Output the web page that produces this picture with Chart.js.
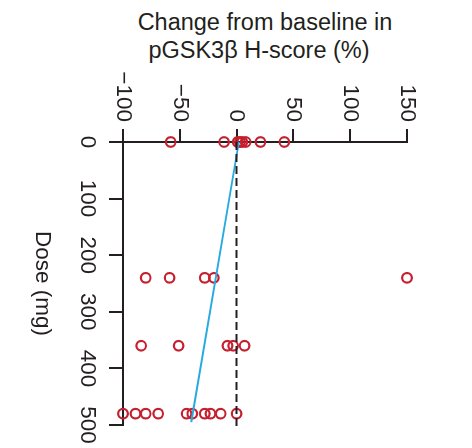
<!DOCTYPE html>
<html>
<head>
<meta charset="utf-8">
<script src="https://cdn.jsdelivr.net/npm/chart.js@4.4.0/dist/chart.umd.min.js"></script>
<style>
html, body { margin: 0; padding: 0; background: #fff; }
body { width: 472px; height: 448px; position: relative; overflow: hidden; font-family: "Liberation Sans", Arial, sans-serif; }
#title { position: absolute; left: 0; top: 9px; width: 530px; text-align: center; font-size: 23.5px; line-height: 27.6px; color: #231f20; }
#title span { position: relative; left: -6px; }
#wrap { position: absolute; left: 0; top: 0; width: 386px; height: 472px; transform-origin: 0 0; transform: translate(472px, 62px) rotate(90deg); }
</style>
</head>
<body>
<div id="title">Change from baseline in<br><span>pGSK3β H-score (%)</span></div>
<div id="wrap"><canvas id="doseChart" width="386" height="472"></canvas></div>
<script>
// dose groups and % change per patient
const doseLevels = [0, 240, 360, 480];
const changeAt0 = [-58, -11, 1, 3, 5, 8, 21, 42];
const changeAt240 = [-80, -59, -28, -20, 150];
const changeAt360 = [-84, -51, -8, -3, 7];
const changeAt480 = [-100, -89, -80, -69, -44, -39, -28, -23, -14, 0];

// fitted line and zero reference
const fitDose = [0, 495];
const fitChange = [2, -40];
const refDose = [0, 505];
const refChange = [0, 0];

const doseTicks = [0, 100, 200, 300, 400, 500];
const changeTicks = [-100, -50, 0, 50, 100, 150];

const ink = '#231f20';
const labelFont = { family: '"Liberation Sans", Arial, sans-serif', size: 22.5 };

const groups = [changeAt0, changeAt240, changeAt360, changeAt480];
let points = [];
groups.forEach((vals, i) => {
    vals.forEach(v => points.push({ x: doseLevels[i], y: v }));
});

const toXY = (xs, ys) => xs.map((x, i) => ({ x: x, y: ys[i] }));

const ctx = document.querySelector('#doseChart');

new Chart(ctx, {
    type: 'scatter',
    data: {
        datasets: [{
            data: toXY(refDose, refChange),
            showLine: true,
            borderColor: ink,
            borderWidth: 2,
            borderDash: [8, 4],
            pointRadius: 0,
            clip: false
        }, {
            data: toXY(fitDose, fitChange),
            showLine: true,
            borderColor: '#27a9e1',
            borderWidth: 2,
            pointRadius: 0,
            clip: false
        }, {
            data: points,
            pointRadius: 4.8,
            pointBorderWidth: 2.2,
            borderColor: '#c4202f',
            backgroundColor: 'rgba(0,0,0,0)',
            clip: false
        }]
    },
    options: {
        responsive: false,
        devicePixelRatio: 1,
        animation: false,
        layout: { padding: { top: 65, right: 23, left: 0, bottom: 0 } },
        plugins: { legend: { display: false }, tooltip: { enabled: false } },
        scales: {
            x: {
                type: 'linear',
                position: 'bottom',
                min: 0,
                max: 500,
                afterBuildTicks: s => { s.ticks = doseTicks.map(v => ({ value: v })); },
                afterFit: s => { s.height = 123; s.paddingLeft = 0; s.paddingRight = 0; },
                grid: { drawOnChartArea: false, color: ink, lineWidth: 2, tickLength: 14 },
                border: { color: ink, width: 2 },
                ticks: { color: ink, font: labelFont, padding: 8, maxRotation: 0, autoSkip: false },
                title: { display: true, text: 'Dose (mg)', color: ink, font: labelFont, padding: { top: 0, bottom: 29 } }
            },
            y: {
                type: 'linear',
                min: -100,
                max: 150,
                afterBuildTicks: s => { s.ticks = changeTicks.map(v => ({ value: v })); },
                afterFit: s => { s.width = 80; s.paddingTop = 0; s.paddingBottom = 0; },
                grid: { drawOnChartArea: false, color: ink, lineWidth: 2, tickLength: 13 },
                border: { color: ink, width: 2 },
                ticks: {
                    color: ink, font: labelFont, padding: 7,
                    callback: v => String(v).replace('-', '\u2212')
                }
            }
        }
    }
});
</script>
</body>
</html>
